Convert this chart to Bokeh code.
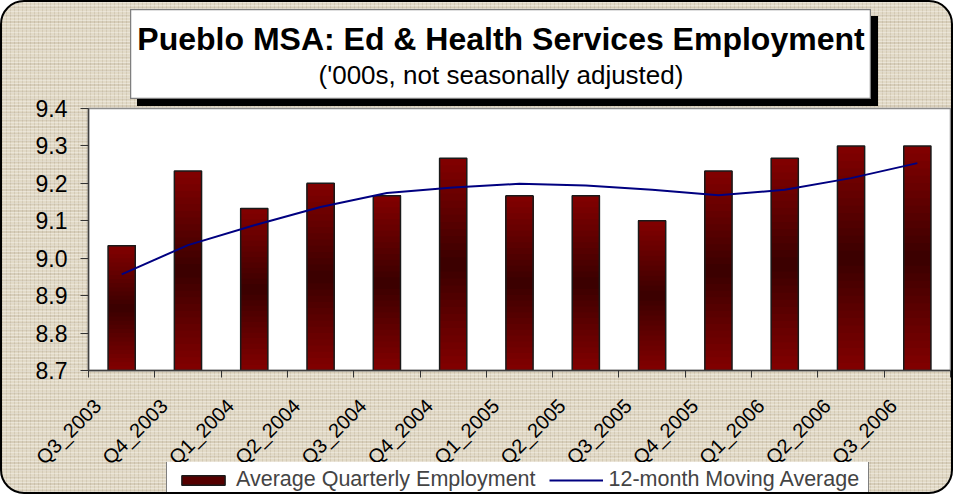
import math
from bokeh.plotting import figure
from bokeh.layouts import column, row
from bokeh.models import (FixedTicker, Range1d, Label, Legend, LegendItem, Spacer)
from bokeh.embed import file_html
from bokeh.resources import INLINE

quarters = ["Q3_2003", "Q4_2003", "Q1_2004", "Q2_2004", "Q3_2004", "Q4_2004", "Q1_2005",
            "Q2_2005", "Q3_2005", "Q4_2005", "Q1_2006", "Q2_2006", "Q3_2006"]
employment = [9.033, 9.233, 9.133, 9.200, 9.167, 9.267, 9.167, 9.167, 9.100, 9.233, 9.267, 9.300, 9.300]
moving_avg = [8.957, 9.035, 9.088, 9.137, 9.174, 9.189, 9.199, 9.194, 9.183, 9.168, 9.183, 9.214, 9.254]
y_ticks = [8.7, 8.8, 8.9, 9.0, 9.1, 9.2, 9.3, 9.4]
y_tick_labels = ["8.7", "8.8", "8.9", "9.0", "9.1", "9.2", "9.3", "9.4"]
title_text = "Pueblo MSA: Ed & Health Services Employment"
subtitle_text = "('000s, not seasonally adjusted)"
legend_labels = ["Average Quarterly Employment", "12-month Moving Average"]

FONT = "Liberation Sans"
n = len(quarters)
centers = [i + 0.5 for i in range(n)]
label_pos = [c - 0.36 for c in centers]
y_min, y_max = y_ticks[0], y_ticks[-1]

BAR_W = 0.41
NB = 30
dark = (0x3a, 0x00, 0x00)
light = (0x80, 0x00, 0x00)
band_colors = []
for k in range(NB):
    f = (k + 0.5) / NB
    d = max(0.0, 1 - abs(f - 0.5) * 2.1)
    c = tuple(int(round(light[j] + (dark[j] - light[j]) * d)) for j in range(3))
    band_colors.append("#%02x%02x%02x" % c)

# ---------------- title box (separate small figure) ----------------
TW, TH = 741, 90
tf = figure(width=TW, height=TH, output_backend="svg", toolbar_location=None,
            x_range=Range1d(0, TW), y_range=Range1d(0, TH),
            x_axis_location=None, y_axis_location=None,
            min_border=0, min_border_left=0, min_border_right=0, min_border_top=0, min_border_bottom=0)
tf.xgrid.visible = False
tf.ygrid.visible = False
tf.background_fill_color = "white"
tf.border_fill_color = "white"
tf.outline_line_color = "#7f7f7f"
tf.outline_line_width = 1.5
tf.styles = {"box-shadow": "7px 7px 0px 0px #000000"}
tf.add_layout(Label(x=TW / 2, y=61, text=title_text,
                    text_font=FONT, text_font_style="bold", text_font_size="32px",
                    text_align="center", text_baseline="middle", text_color="black"))
tf.add_layout(Label(x=TW / 2, y=25, text=subtitle_text,
                    text_font=FONT, text_font_size="26px",
                    text_align="center", text_baseline="middle", text_color="black"))

# ---------------- main chart ----------------
TOP_OVERLAP = 14
W = 941
B_TOP, B_BOT, FRAME_H = 9 + TOP_OVERLAP, 112, 262
H = B_TOP + FRAME_H + B_BOT
p = figure(width=W, height=H, output_backend="svg", toolbar_location=None,
           x_range=Range1d(0, n), y_range=Range1d(y_min, y_max),
           min_border_left=78, min_border_right=1, min_border_top=B_TOP, min_border_bottom=B_BOT)
p.border_fill_alpha = 0
p.background_fill_color = "white"
p.outline_line_color = "#8c8c8c"
p.outline_line_width = 1.5
p.xgrid.visible = False
p.ygrid.visible = False

for k in range(NB):
    bots = [y_min + (v - y_min) * k / NB for v in employment]
    p.vbar(x=centers, bottom=bots, top=employment, width=BAR_W, fill_color=band_colors[k], line_color=None)

p.vbar(x=centers, bottom=y_min, top=employment, width=BAR_W, fill_color=None,
       line_color="#1a1a1a", line_width=1.5)
p.line(centers, moving_avg, line_color="#000080", line_width=2)

xa = p.xaxis[0]
xa.ticker = FixedTicker(ticks=label_pos, minor_ticks=list(range(n + 1)))
xa.major_label_overrides = {c: q for c, q in zip(label_pos, quarters)}
xa.major_label_orientation = math.pi / 4
xa.major_tick_line_color = None
xa.minor_tick_in = 0
xa.minor_tick_out = 7
xa.minor_tick_line_color = "#333333"
xa.axis_line_color = "#404040"
xa.axis_line_width = 1.5
xa.major_label_text_font = FONT
xa.major_label_text_font_size = "20px"
xa.major_label_text_color = "black"
xa.major_label_standoff = 25

ya = p.yaxis[0]
ya.ticker = FixedTicker(ticks=y_ticks)
ya.major_label_overrides = {t: s for t, s in zip(y_ticks, y_tick_labels)}
ya.major_tick_in = 0
ya.major_tick_out = 8
ya.minor_tick_line_color = None
ya.major_tick_line_color = "#333333"
ya.axis_line_color = "#404040"
ya.axis_line_width = 1.5
ya.major_label_text_font = FONT
ya.major_label_text_font_size = "23px"
ya.major_label_text_color = "black"
ya.major_label_standoff = 13

# ---------------- legend strip (own figure, hidden copies of the series) ----------------
LH = 30
LEG_OVERLAP = 20
lf = figure(width=W, height=LH, output_backend="svg", toolbar_location=None,
            x_range=Range1d(0, n), y_range=Range1d(y_min, y_max),
            x_axis_location=None, y_axis_location=None,
            min_border=0, min_border_left=0, min_border_right=0, min_border_top=0, min_border_bottom=0)
lf.xgrid.visible = False
lf.ygrid.visible = False
lf.border_fill_alpha = 0
lf.background_fill_alpha = 0
lf.outline_line_color = None
lb = lf.vbar(x=centers, bottom=y_min, top=employment, width=BAR_W, fill_color=band_colors[9],
             line_color="#1a1a1a", line_width=1.5, visible=False)
ll = lf.line(centers, moving_avg, line_color="#000080", line_width=2, visible=False)
legend = Legend(items=[LegendItem(label=legend_labels[0], renderers=[lb]),
                       LegendItem(label=legend_labels[1], renderers=[ll])],
                orientation="horizontal", location=(156, -10))
legend.label_text_font = FONT
legend.label_text_font_size = "21.5px"
legend.glyph_width = 54
legend.glyph_height = 12
legend.label_standoff = 6
legend.spacing = 13
legend.padding = 9
legend.margin = 0
legend.border_line_color = "black"
legend.border_line_width = 1
legend.background_fill_color = "white"
legend.background_fill_alpha = 1
legend.inactive_fill_alpha = 0
lf.add_layout(legend, "center")

main_row = row(Spacer(width=8, height=H), p)
main_row.styles = {"margin-top": "-%dpx" % TOP_OVERLAP}
leg_row = row(Spacer(width=8, height=LH), lf)
leg_row.styles = {"margin-top": "-%dpx" % LEG_OVERLAP}

layout = column(
    Spacer(width=10, height=7),
    row(Spacer(width=128, height=TH), tf),
    main_row,
    leg_row,
)
layout.styles = {
    "border": "2px solid black",
    "border-radius": "24px",
    "overflow": "hidden",
    "background": ("repeating-linear-gradient(0deg, rgba(255,255,255,0.30) 0px, rgba(255,255,255,0.30) 1px, transparent 1px, transparent 3px),"
                   "repeating-linear-gradient(90deg, rgba(130,110,80,0.15) 0px, rgba(130,110,80,0.15) 1px, transparent 1px, transparent 4px),"
                   "repeating-linear-gradient(0deg, rgba(120,100,70,0.10) 0px, rgba(120,100,70,0.10) 2px, transparent 2px, transparent 7px),"
                   "#e2dac7"),
}

open("out.html", "w").write(file_html(layout, INLINE))
